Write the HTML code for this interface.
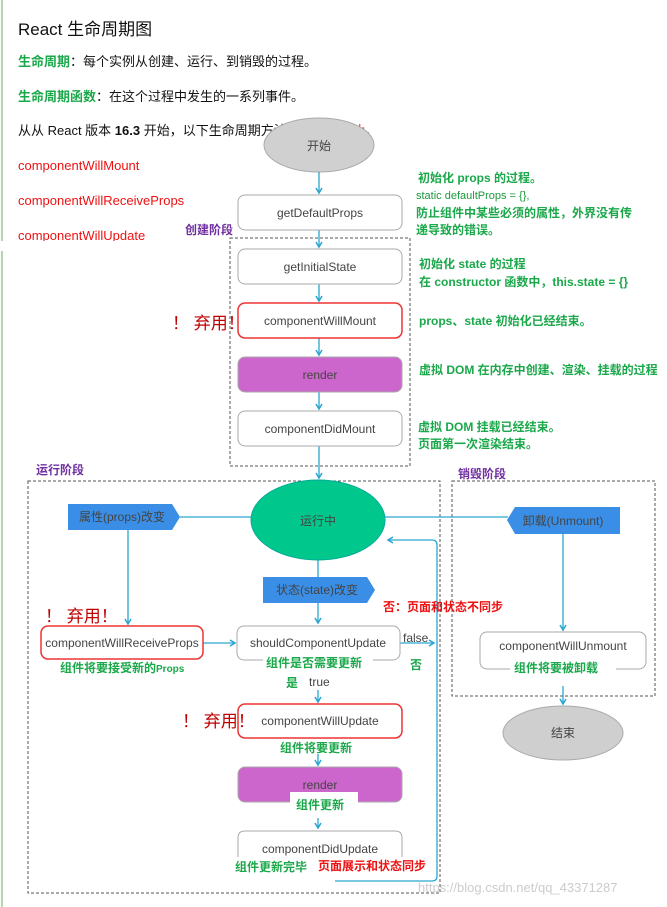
<!DOCTYPE html>
<html><head><meta charset="utf-8"><style>
html,body{margin:0;padding:0;background:#fff}
svg{display:block}
text{font-family:"Liberation Sans","Noto Sans CJK SC",sans-serif}
.g{fill:#1aa84a;font-weight:bold;font-size:12px}
.bx{font-size:12px;fill:#444;text-anchor:middle}
.r{fill:#ee1111;font-weight:bold;font-size:12px}
.dr{fill:#c00000;font-size:17px}
.pu{fill:#7030a0;font-weight:bold;font-size:12px}
</style></head><body>
<svg width="667" height="907" viewBox="0 0 667 907" xmlns="http://www.w3.org/2000/svg">
<defs><marker id="a" markerWidth="8" markerHeight="8" refX="6" refY="4" orient="auto" markerUnits="userSpaceOnUse"><path d="M1,1 L6,4 L1,7" fill="none" stroke="#2aa6d0" stroke-width="1.5"/></marker></defs>
<line x1="2" y1="0" x2="2" y2="907" stroke="#9c9" stroke-width="1.5"/>
<text x="18" y="35" font-size="17" fill="#111">React 生命周期图</text>
<text x="18" y="66" font-size="13" fill="#111"><tspan fill="#1aa84a" font-weight="bold">生命周期</tspan>：每个实例从创建、运行、到销毁的过程。</text>
<text x="18" y="101" font-size="13" fill="#111"><tspan fill="#1aa84a" font-weight="bold">生命周期函数</tspan>：在这个过程中发生的一系列事件。</text>
<text x="18" y="135" font-size="13" fill="#111">从从 React 版本 <tspan font-weight="bold">16.3</tspan> 开始，以下生命周期方法正在逐步<tspan fill="#ee1111">淘汰</tspan>。</text>
<text x="18" y="170" font-size="13" fill="#ee1111">componentWillMount</text>
<text x="18" y="205" font-size="13" fill="#ee1111">componentWillReceiveProps</text>
<text x="18" y="240" font-size="13" fill="#ee1111">componentWillUpdate</text>
<rect x="0" y="241" width="200" height="10" fill="#fff"/>
<!-- creation -->
<ellipse cx="319" cy="145" rx="55" ry="27" fill="#d0d0d0" stroke="#aaa"/>
<text x="319" y="150" class="bx">开始</text>
<rect x="230" y="238" width="180" height="228" fill="none" stroke="#555" stroke-dasharray="3,2"/>
<text x="185" y="234" class="pu">创建阶段</text>
<g stroke="#2aa6d0" stroke-width="1.3" fill="none">
<line x1="319" y1="172" x2="319" y2="193" marker-end="url(#a)"/>
<line x1="319" y1="230" x2="319" y2="247" marker-end="url(#a)"/>
<line x1="319" y1="284" x2="319" y2="301" marker-end="url(#a)"/>
<line x1="319" y1="338" x2="319" y2="355" marker-end="url(#a)"/>
<line x1="319" y1="392" x2="319" y2="409" marker-end="url(#a)"/>
<line x1="319" y1="446" x2="319" y2="478" marker-end="url(#a)"/>
</g>
<rect x="238" y="195" width="164" height="35" rx="7" fill="#fff" stroke="#aaa"/><text x="320" y="217" class="bx">getDefaultProps</text>
<rect x="238" y="249" width="164" height="35" rx="7" fill="#fff" stroke="#aaa"/><text x="320" y="271" class="bx">getInitialState</text>
<rect x="238" y="303" width="164" height="35" rx="7" fill="#fff" stroke="#e33" stroke-width="1.5"/><text x="320" y="325" class="bx">componentWillMount</text>
<rect x="238" y="357" width="164" height="35" rx="7" fill="#cc66cc" stroke="#aaa"/><text x="320" y="379" class="bx">render</text>
<rect x="238" y="411" width="164" height="35" rx="7" fill="#fff" stroke="#aaa"/><text x="320" y="433" class="bx">componentDidMount</text>
<text x="172" y="329" class="dr">！ 弃用！</text>
<text x="418" y="182" class="g">初始化 props 的过程。</text>
<text x="416" y="199" font-size="11" fill="#1a9a3a">static defaultProps = {},</text>
<text x="416" y="217" class="g">防止组件中某些必须的属性，外界没有传</text>
<text x="416" y="234" class="g">递导致的错误。</text>
<text x="419" y="268" class="g">初始化 state 的过程</text>
<text x="419" y="286" class="g">在 constructor 函数中，this.state = {}</text>
<text x="419" y="325" class="g">props、state 初始化已经结束。</text>
<text x="419" y="374" class="g">虚拟 DOM 在内存中创建、渲染、挂载的过程</text>
<text x="418" y="431" class="g">虚拟 DOM 挂载已经结束。</text>
<text x="418" y="448" class="g">页面第一次渲染结束。</text>
<!-- running -->
<text x="36" y="474" class="pu">运行阶段</text>
<rect x="28" y="481" width="412" height="412" fill="none" stroke="#555" stroke-dasharray="3,2"/>
<text x="458" y="478" class="pu">销毁阶段</text>
<rect x="452" y="481" width="203" height="215" fill="none" stroke="#555" stroke-dasharray="3,2"/>
<g stroke="#2aa6d0" stroke-width="1.3" fill="none">
<line x1="180" y1="517" x2="252" y2="517"/>
<line x1="385" y1="517" x2="508" y2="517"/>
<line x1="128" y1="530" x2="128" y2="624" marker-end="url(#a)"/>
<line x1="318" y1="560" x2="318" y2="577"/>
<line x1="318" y1="603" x2="318" y2="623" marker-end="url(#a)"/>
<line x1="203" y1="643" x2="235" y2="643" marker-end="url(#a)"/>
<line x1="400" y1="643" x2="434" y2="643" marker-end="url(#a)"/>
<line x1="318" y1="690" x2="318" y2="702" marker-end="url(#a)"/>
<line x1="318" y1="754" x2="318" y2="765" marker-end="url(#a)"/>
<line x1="318" y1="818" x2="318" y2="828" marker-end="url(#a)"/>
<path d="M335,881 H432 Q437,881 437,876 V545 Q437,540 432,540 H388" marker-end="url(#a)"/>
<line x1="563" y1="534" x2="563" y2="630" marker-end="url(#a)"/>
<line x1="563" y1="686" x2="563" y2="704" marker-end="url(#a)"/>
</g>
<ellipse cx="318" cy="520" rx="67" ry="40" fill="#00c78c" stroke="#0a9"/>
<text x="318" y="525" class="bx">运行中</text>
<path d="M68,504 H172 L180,517 L172,530 H68 Z" fill="#3a8ee6"/>
<text x="122" y="521" class="bx">属性(props)改变</text>
<path d="M263,577 H367 L375,590 L367,603 H263 Z" fill="#3a8ee6"/>
<text x="317" y="594" class="bx">状态(state)改变</text>
<path d="M620,507 H515 L507,520 L515,534 H620 Z" fill="#3a8ee6"/>
<text x="563" y="525" class="bx">卸载(Unmount)</text>
<rect x="41" y="626" width="162" height="33" rx="7" fill="#fff" stroke="#e33" stroke-width="1.5"/><text x="122" y="647" class="bx">componentWillReceiveProps</text>
<rect x="237" y="626" width="163" height="34" rx="7" fill="#fff" stroke="#aaa"/><text x="318" y="647" class="bx">shouldComponentUpdate</text>
<rect x="263" y="656" width="110" height="14" fill="#fff"/>
<text x="266" y="667" class="g">组件是否需要更新</text>
<text x="60" y="672" class="g">组件将要接受新的<tspan font-size="10">Props</tspan></text>
<text x="45" y="622" class="dr">！ 弃用！</text>
<text x="403" y="642" font-size="12" fill="#444">false</text>
<text x="410" y="669" class="g">否</text>
<text x="383" y="611" class="r">否：页面和状态不同步</text>
<text x="286" y="687" class="g">是</text><text x="309" y="686" font-size="12" fill="#444">true</text>
<rect x="238" y="704" width="164" height="34" rx="7" fill="#fff" stroke="#e33" stroke-width="1.5"/><text x="320" y="725" class="bx">componentWillUpdate</text>
<text x="182" y="727" class="dr">！ 弃用！</text>
<text x="280" y="752" class="g">组件将要更新</text>
<rect x="238" y="767" width="164" height="35" rx="7" fill="#cc66cc" stroke="#aaa"/><text x="320" y="789" class="bx">render</text>
<rect x="290" y="792" width="68" height="22" fill="#fff"/>
<text x="296" y="809" class="g">组件更新</text>
<path d="M238,865 V838 Q238,831 245,831 H395 Q402,831 402,838 V865" fill="#fff" stroke="#aaa"/>
<text x="320" y="853" class="bx">componentDidUpdate</text>
<rect x="232" y="857" width="180" height="20" fill="#fff"/>
<text x="235" y="871" class="g">组件更新完毕</text>
<text x="318" y="870" class="r">页面展示和状态同步</text>
<rect x="480" y="632" width="166" height="37" rx="7" fill="#fff" stroke="#aaa"/><text x="563" y="650" class="bx">componentWillUnmount</text>
<rect x="510" y="662" width="106" height="14" fill="#fff"/>
<text x="514" y="672" class="g">组件将要被卸载</text>
<ellipse cx="563" cy="733" rx="60" ry="27" fill="#cfcfcf" stroke="#aaa"/>
<text x="563" y="737" class="bx">结束</text>
<text x="418" y="892" font-size="13" fill="#ccc">https://blog.csdn.net/qq_43371287</text>
</svg>
</body></html>
